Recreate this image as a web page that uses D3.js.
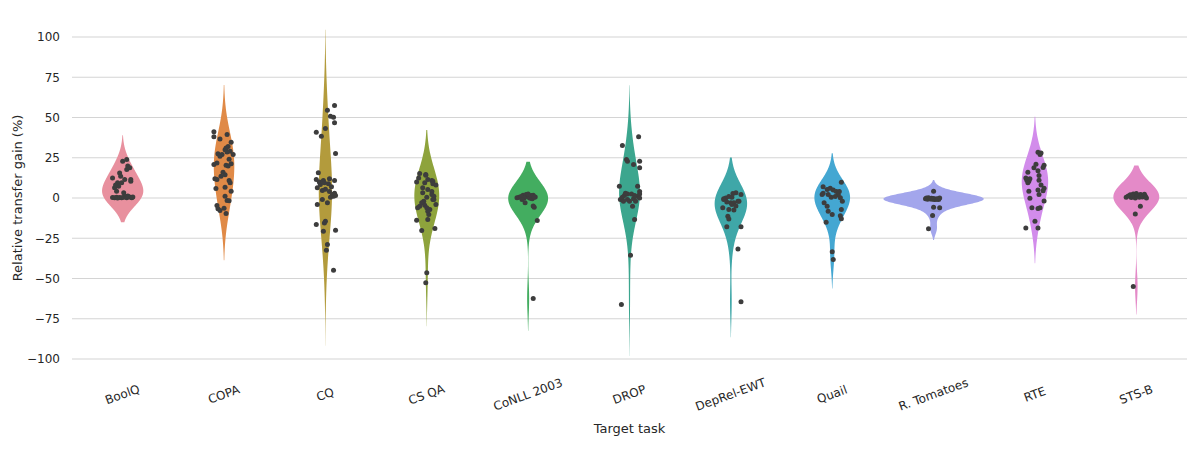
<!DOCTYPE html>
<html>
<head>
<meta charset="utf-8">
<script src="https://cdn.jsdelivr.net/npm/d3@7"></script>
<style>
  body { margin: 0; background: #fff; }
  svg { font-family: "DejaVu Sans", sans-serif; }
</style>
</head>
<body>
<svg id="chart" width="1200" height="450"></svg>
<script>
// Target tasks, in plot order
const tasks = ["BoolQ", "COPA", "CQ", "CS QA", "CoNLL 2003", "DROP", "DepRel-EWT", "Quail", "R. Tomatoes", "RTE", "STS-B"];

const colors = ["#e8909e", "#e08a47", "#b39b3c", "#8ea33c", "#43ad60", "#3ca68e", "#3fa7a8", "#44a7d2", "#a3a6ec", "#d28ceb", "#e48ac8"];

// KDE bandwidth of each violin (in % units)
const bandwidths = [7.5, 14.5, 23.5, 13.5, 10, 16, 11, 9, 3.5, 11, 8.7];

const yTicks = [-100, -75, -50, -25, 0, 25, 50, 75, 100];

// each point: [relative transfer gain %, strip jitter as a fraction of the band]
const boolq = [[12.5,-.10],[6.3,-.08],[4.2,-.06],[9.4,-.05],[15.6,-.03],[13.5,-.02],[9.4,-.01],[22.9,0],[11.5,.02],[23.9,.04],[17.7,.04],[19.8,.05],[18.8,.07],[10.4,.08],[11.5,.08],[3.2,.01],[7.3,-.04],[8,-.07],
  [0.3,-.10],[0.2,-.08],[0.4,-.06],[0,-.05],[0.3,-.03],[0.1,-.01],[0.5,.01],[1,.03],[0.2,.04],[0.8,.06],[0.4,.08],[0.2,.09],[1.2,.05],[0.6,.10]];
const copa = [[41.2,-.10],[38.1,-.10],[36.6,-.04],[39.4,.03],[34.6,.07],[32,.04],[30,.01],[29,.06],[27.5,-.06],[27,.09],[27,-.02],[28.5,.03],[21.8,-.07],[20.8,-.10],[20.4,.02],[21.2,.07],[16,-.01],[13.5,-.03],[14.5,.01],[11.9,-.09],[10.9,.05],[5.9,-.08],[6.7,.01],[4.2,.07],[1.1,.01],[-1.6,.03],[-1.7,.05],[-4.7,-.07],[-6.7,-.06],[-7.8,-.04],[-6.3,0],[-9.6,.02],[26,-.04],[11.5,-.07],[19.8,.04],[9.4,.06],[31,.02],[24,.05]];
const cq = [[57.5,.09],[54.5,.02],[50.8,.05],[50.2,.08],[46.7,.09],[43.2,0],[40.9,-.09],[38.4,-.04],[27.6,.10],[15.7,-.07],[11.5,-.09],[10,-.06],[8.4,-.05],[10.9,-.02],[8.8,.03],[10.9,.09],[6.3,-.08],[4.7,-.03],[5.5,0],[4,.04],[2.2,.07],[1.1,.08],[3,.09],[0.5,.05],[-0.9,-.03],[-3,.02],[-4,-.08],[-16.5,-.09],[-14.4,0],[-15.5,-.01],[-20.6,-.02],[-20,.10],[-28.9,.02],[-32.4,.01],[-44.8,.08],[7,.06],[12,.04],[1.5,.10],[9.5,-.01]];
const csqa = [[15.2,-.07],[14.6,-.01],[12.5,-.08],[14.2,-.01],[10,-.10],[9.4,-.02],[11.5,.01],[10.9,.05],[10.4,.06],[8.8,.06],[8,.09],[6.3,-.04],[5.3,.01],[3.2,-.04],[4,.05],[2.2,.05],[1.1,.07],[-0.9,.07],[-0.9,.06],[-2,-.03],[-5.1,-.07],[-4,.09],[-4.5,-.02],[-6.1,-.09],[-7.1,.03],[-8.2,.01],[-10.2,.02],[-13.8,-.10],[-13.4,.01],[-20.2,-.05],[-18.9,.08],[-46.5,0],[-52.7,-.01],[-3,-.05],[0.5,0],[-6,0]];
const conll = [[0.1,-.11],[0.5,-.09],[1.7,-.05],[0.8,-.03],[1.2,-.01],[0.3,.01],[1.7,.05],[0.6,.07],[-0.2,.02],[0.9,-.07],[2.2,-.02],[-0.5,.04],[1.5,.03],[0,-.04],[-3,-.03],[-5,.05],[-5.8,.06],[-14,.09],[-62.4,.05],[2.5,0],[0.4,.06],[-1,-.06]];
const drop = [[32.6,-.07],[38,.09],[23.9,-.03],[22.9,-.02],[20.8,.04],[22.9,.10],[18.8,.10],[7.3,-.10],[7.3,.08],[-0.9,-.09],[0.5,-.07],[1.5,-.05],[2.5,-.02],[2.5,.02],[-0.5,.04],[-2,.06],[1,.08],[2.5,.10],[-2,-.06],[-2,0],[-5.1,.03],[-13.4,.05],[-35.5,.01],[-66.1,-.08],[0,.10],[4,.10],[-1,-.02],[1.5,.05],[3,-.04]];
const deprel = [[-0.5,-.07],[-6,-.08],[0,-.05],[1,-.02],[2.8,.02],[3.2,.05],[2.2,.10],[-3,0],[-3,.03],[-2,.07],[-2,.08],[-7.1,-.02],[-7.5,.03],[-11.3,-.03],[-13,-.02],[-17.9,-.04],[-17.9,.10],[-31.6,.07],[-64.5,.10],[-1,-.07],[-2.5,-.04],[-4,.01],[0.5,.01],[-5,.05]];
const quail = [[9.8,.09],[7,-.09],[5.3,-.05],[6,-.02],[5,.01],[4,.04],[2,.06],[0.1,.08],[-2,.10],[3,-.09],[2.2,-.10],[2.2,-.04],[0.5,-.01],[-3,-.08],[-5.1,-.05],[-8.2,-.04],[-10.2,0],[-7.1,.09],[-11,.08],[-12.9,.09],[-15,-.06],[-33.4,0],[-38.2,.01],[1,.03],[4,.07]];
const tomatoes = [[4.2,0],[-0.5,-.08],[0,-.07],[-0.8,-.06],[0.2,-.05],[-0.3,-.04],[-0.6,-.03],[-0.2,-.02],[-0.8,-.01],[-0.3,0],[-1,.01],[-0.6,.02],[-0.8,.03],[-1,.05],[0,.06],[-0.5,.04],[-5.7,0],[-6.1,.06],[-10.9,-.01],[-19.1,-.05]];
const rte = [[28.4,.03],[28,.06],[27,.05],[20.4,.09],[19,.08],[18.8,-.01],[16,-.07],[12.5,-.09],[10.4,-.06],[17,.03],[14,.04],[11,.04],[8,.06],[6,.09],[4.5,.08],[5,.03],[2.2,.04],[4.2,-.06],[-0.2,-.05],[-1.9,.09],[-6,-.03],[-6,.05],[-6.5,.03],[-14.4,0],[-18.6,-.09],[-18.6,.03],[11,-.08],[9.5,-.07],[12,-.05],[21,.01]];
const stsb = [[0.5,-.10],[1.2,-.08],[2,-.06],[0.3,-.05],[2.5,-.03],[1,-.02],[0,-.01],[2.8,0],[1.5,.01],[0.4,.03],[2.2,.04],[1.8,.05],[0.6,.06],[2.4,.08],[1.1,.09],[0,.10],[1.5,-.04],[-5.2,.04],[-10,-.01],[-55,-.03]];

const gains = [boolq, copa, cq, csqa, conll, drop, deprel, quail, tomatoes, rte, stsb];

const width = 1200;
const height = 450;
const marginLeft = 72;
const marginRight = 13;
const marginTop = 37;
const plotBottom = 359;

const svg = d3.select("#chart");

const x = d3.scaleBand()
  .domain(tasks)
  .range([marginLeft, width - marginRight])
  .padding(0);

const y = d3.scaleLinear()
  .domain([-100, 100])
  .range([plotBottom, marginTop]);

// gaussian kde evaluated from min - 2bw to max + 2bw (seaborn cut=2)
const kde = (values, bw) => {
  const lo = d3.min(values) - 2 * bw;
  const hi = d3.max(values) + 2 * bw;
  const n = 200;
  const norm = 1 / (values.length * bw * Math.sqrt(2 * Math.PI));
  return d3.range(n + 1).map(i => {
    const v = lo + (hi - lo) * i / n;
    const d = d3.sum(values, s => Math.exp(-0.5 * ((v - s) / bw) ** 2)) * norm;
    return [v, d];
  });
};

const densities = gains.map((pts, i) => kde(pts.map(p => p[0]), bandwidths[i]));
const maxDensity = d3.max(densities, ds => d3.max(ds, d => d[1]));

// same area for every violin, widest one fills the band
const w = d3.scaleLinear()
  .domain([0, maxDensity])
  .range([0, x.bandwidth() * 0.495]);

// grid
svg.append("g")
  .selectAll("line")
  .data(yTicks)
  .join("line")
  .attr("x1", marginLeft)
  .attr("x2", width - marginRight)
  .attr("y1", d => y(d))
  .attr("y2", d => y(d))
  .attr("stroke", "#d4d4d4")
  .attr("stroke-width", 1.2);

// y axis
const gy = svg.append("g")
  .attr("transform", `translate(${marginLeft},0)`)
  .call(d3.axisLeft(y).tickValues(yTicks).tickSize(0).tickPadding(12)
    .tickFormat(d => d < 0 ? "\u2212" + Math.abs(d) : d));
gy.select(".domain").remove();
gy.selectAll("text").attr("font-size", 12).attr("fill", "#262626")
  .attr("font-family", "DejaVu Sans, sans-serif");

// x axis
const gx = svg.append("g")
  .attr("transform", `translate(0,${plotBottom})`)
  .call(d3.axisBottom(x).tickSize(0).tickPadding(0));
gx.select(".domain").remove();
gx.selectAll("text")
  .attr("font-size", 12)
  .attr("fill", "#262626")
  .attr("font-family", "DejaVu Sans, sans-serif")
  .attr("text-anchor", "middle")
  .attr("dy", null)
  .attr("y", null)
  .attr("transform", "translate(0,36) rotate(-20)")
  .attr("dominant-baseline", "middle");

// violins
const area = d3.area()
  .y(d => y(d[0]))
  .x0(d => -w(d[1]))
  .x1(d => w(d[1]));

svg.append("g")
  .selectAll("path")
  .data(densities)
  .join("path")
  .attr("transform", (d, i) => `translate(${x(tasks[i]) + x.bandwidth() / 2},0)`)
  .attr("fill", (d, i) => colors[i])
  .attr("d", area);

// strip points
svg.append("g")
  .selectAll("g")
  .data(gains)
  .join("g")
  .attr("transform", (d, i) => `translate(${x(tasks[i]) + x.bandwidth() / 2},0)`)
  .selectAll("circle")
  .data(d => d)
  .join("circle")
  .attr("cx", d => d[1] * x.bandwidth())
  .attr("cy", d => y(d[0]))
  .attr("r", 2.5)
  .attr("fill", "#3d3d3d");

// axis titles
svg.append("text")
  .attr("transform", `translate(22,${(plotBottom + marginTop) / 2}) rotate(-90)`)
  .attr("text-anchor", "middle")
  .attr("font-size", 13)
  .attr("fill", "#262626")
  .text("Relative transfer gain (%)");

svg.append("text")
  .attr("x", (marginLeft + width - marginRight) / 2)
  .attr("y", 433)
  .attr("text-anchor", "middle")
  .attr("font-size", 13)
  .attr("fill", "#262626")
  .text("Target task");
</script>
</body>
</html>
